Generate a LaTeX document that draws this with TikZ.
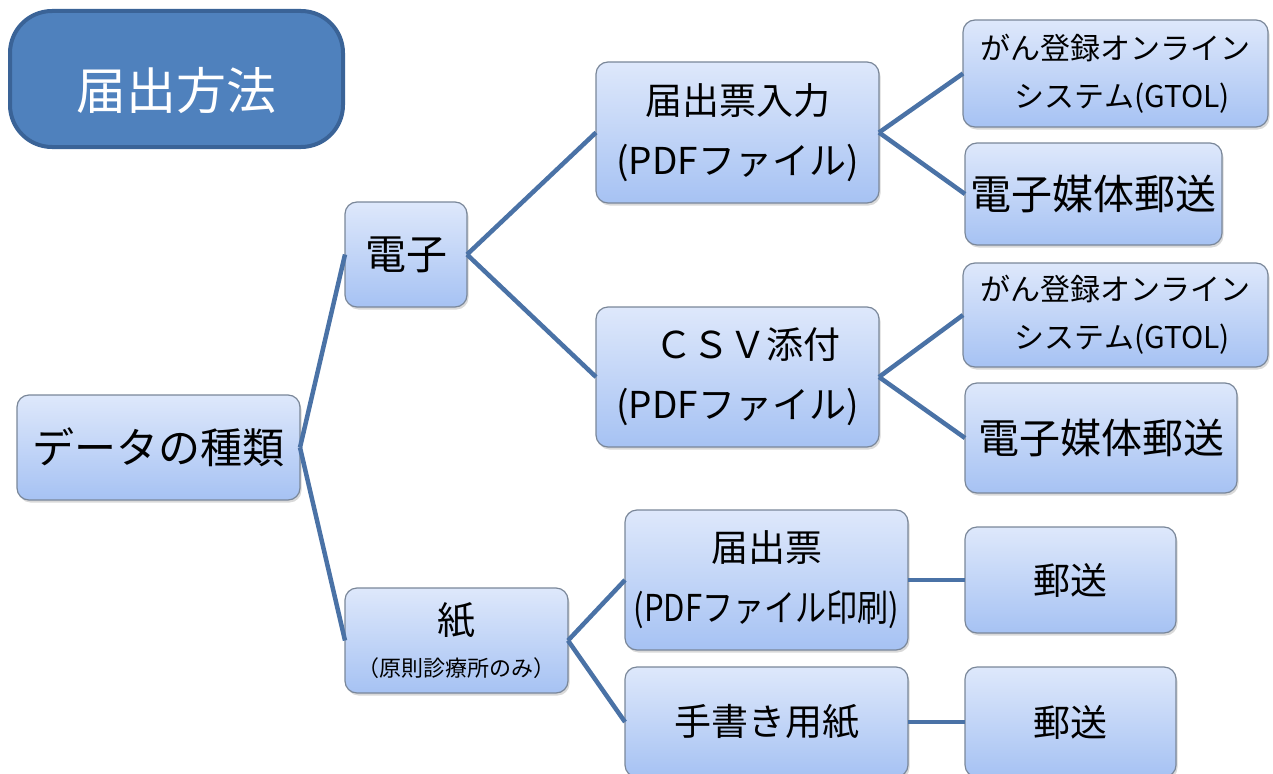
\documentclass[tikz,border=0pt]{standalone}
\usepackage{graphicx}
\usepackage{fontspec}
\setmainfont{Noto Sans CJK JP}
\usetikzlibrary{shadows}
\definecolor{lineblue}{HTML}{4A72A6}
\definecolor{boxtop}{HTML}{DEE8FB}
\definecolor{boxbot}{HTML}{A6C2F3}
\definecolor{boxedge}{HTML}{7A8799}
\definecolor{titlefill}{HTML}{4F81BD}
\definecolor{titleedge}{HTML}{3A6397}
\tikzset{
  box/.style={draw=boxedge, line width=1.2pt, rounded corners=12pt,
    top color=boxtop, bottom color=boxbot, anchor=north west,
    inner sep=0pt, outer sep=0pt, align=center,
    drop shadow={opacity=0.3, shadow xshift=1.5pt, shadow yshift=-2.5pt}},
  titlebox/.style={draw=titleedge, line width=4pt, rounded corners=42pt,
    fill=titlefill, text=white, anchor=north west, inner sep=0pt,
    text height=62pt, text depth=0pt,
    font=\fontsize{50}{56}\selectfont},
  conn/.style={draw=lineblue, line width=4.5pt},
  big/.style={font=\fontsize{41}{60}\selectfont},
  mid/.style={font=\fontsize{37}{60}\selectfont},
  small/.style={font=\fontsize{30}{48}\selectfont},
}
\begin{document}
\begin{tikzpicture}[x=1pt,y=-1pt]
\useasboundingbox (0,0) rectangle (1273,773);

\node[titlebox, minimum width=333pt, minimum height=136pt] (title) at (8,9) {届出方法};

\node[box, font=\fontsize{42}{60}\selectfont, minimum width=283pt, minimum height=105pt] (data) at (17,395) {データの種類};
\node[box, big, minimum width=122pt, minimum height=105pt] (denshi) at (345,202) {電子};
\node[box, font=\fontsize{22}{42}\selectfont, minimum width=223pt, minimum height=105pt] (kami) at (345,588)
  {{\fontsize{38}{42}\selectfont 紙}\\（原則診療所のみ）};

\node[box, mid, minimum width=283pt, minimum height=141pt] (pdf) at (596,62) {届出票入力\\(PDFファイル)};
\node[box, mid, minimum width=283pt, minimum height=140pt] (csv) at (596,307) {\hspace{20pt}ＣＳＶ添付\\(PDFファイル)};
\node[box, mid, minimum width=283pt, minimum height=140pt] (print) at (625,510)
  {届出票\\\scalebox{0.84}[1]{(PDFファイル印刷)}};
\node[box, mid, minimum width=283pt, minimum height=110pt] (hand) at (625,667) {手書き用紙};

\node[box, small, minimum width=305pt, minimum height=107pt] (gtol1) at (963,20) {がん登録オンライン\\\hspace{14pt}システム(GTOL)};
\node[box, big, minimum width=257pt, minimum height=102pt] (media1) at (965,143) {電子媒体郵送};
\node[box, small, minimum width=305pt, minimum height=104pt] (gtol2) at (963,263) {がん登録オンライン\\\hspace{14pt}システム(GTOL)};
\node[box, big, minimum width=272pt, minimum height=110pt] (media2) at (965,383) {電子媒体郵送};
\node[box, mid, minimum width=211pt, minimum height=106pt] (post1) at (965,527) {郵送};
\node[box, mid, minimum width=211pt, minimum height=110pt] (post2) at (965,667) {郵送};

\draw[conn] (data.east) -- (denshi.west);
\draw[conn] (data.east) -- (kami.west);
\draw[conn] (denshi.east) -- (pdf.west);
\draw[conn] (denshi.east) -- (csv.west);
\draw[conn] (kami.east) -- (print.west);
\draw[conn] (kami.east) -- (hand.west);
\draw[conn] (pdf.east) -- (gtol1.west);
\draw[conn] (pdf.east) -- (media1.west);
\draw[conn] (csv.east) -- (gtol2.west);
\draw[conn] (csv.east) -- (media2.west);
\draw[conn] (print.east) -- (post1.west);
\draw[conn] (hand.east) -- (post2.west);
\end{tikzpicture}
\end{document}
